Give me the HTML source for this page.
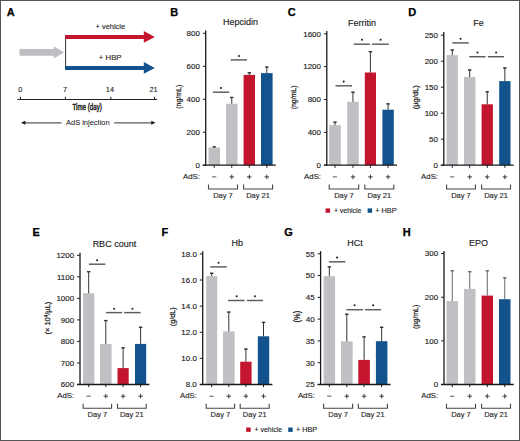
<!DOCTYPE html>
<html><head><meta charset="utf-8"><style>
html,body{margin:0;padding:0;background:#fff;}
body{width:520px;height:441px;overflow:hidden;position:relative;font-family:"Liberation Sans", sans-serif;}
</style></head><body>
<svg width="520" height="441" viewBox="0 0 520 441" style="position:absolute;left:0;top:0" font-family='"Liberation Sans", sans-serif'>
<rect x="0.00" y="0.00" width="520.00" height="441.00" fill="#fff"/>
<text x="6.80" y="16.20" font-size="11" text-anchor="start" font-weight="bold" fill="#000" stroke="#000" stroke-width="0.25" >A</text>
<path d="M19.5,48.9 H53.8 V46.3 L64,52.4 L53.8,58.5 V55.8 H19.5 Z" fill="#bebfc3"/>
<line x1="65.60" y1="35.00" x2="65.60" y2="70.00" stroke="#333" stroke-width="1"/>
<path d="M65.1,35 H143.8 V30.9 L154.8,36.9 L143.8,42.8 V39 H65.1 Z" fill="#c4152f"/>
<path d="M65.1,66 H143.8 V61.9 L154.8,67.9 L143.8,73.8 V70 H65.1 Z" fill="#12538d"/>
<text x="110.30" y="28.80" font-size="7.7" text-anchor="middle" font-weight="normal" fill="#222" stroke="#222" stroke-width="0.12" textLength="29.6" lengthAdjust="spacingAndGlyphs">+ vehicle</text>
<text x="110.20" y="59.70" font-size="7.8" text-anchor="middle" font-weight="normal" fill="#222" stroke="#222" stroke-width="0.12" >+ HBP</text>
<line x1="17.40" y1="99.50" x2="157.20" y2="99.50" stroke="#222" stroke-width="1.1"/>
<line x1="20.50" y1="96.80" x2="20.50" y2="99.50" stroke="#222" stroke-width="1"/>
<text x="20.40" y="91.60" font-size="7.3" text-anchor="middle" font-weight="normal" fill="#222" stroke="#222" stroke-width="0.12" >0</text>
<line x1="65.40" y1="96.80" x2="65.40" y2="99.50" stroke="#222" stroke-width="1"/>
<text x="65.10" y="91.60" font-size="7.3" text-anchor="middle" font-weight="normal" fill="#222" stroke="#222" stroke-width="0.12" >7</text>
<line x1="110.90" y1="96.80" x2="110.90" y2="99.50" stroke="#222" stroke-width="1"/>
<text x="109.90" y="91.60" font-size="7.3" text-anchor="middle" font-weight="normal" fill="#222" stroke="#222" stroke-width="0.12" >14</text>
<line x1="154.50" y1="96.80" x2="154.50" y2="99.50" stroke="#222" stroke-width="1"/>
<text x="153.60" y="91.60" font-size="7.3" text-anchor="middle" font-weight="normal" fill="#222" stroke="#222" stroke-width="0.12" >21</text>
<text x="87.20" y="110.40" font-size="8.8" text-anchor="middle" font-weight="normal" fill="#222" stroke="#222" stroke-width="0.45" textLength="29.5" lengthAdjust="spacingAndGlyphs">Time (day)</text>
<line x1="24.00" y1="122.80" x2="61.50" y2="122.80" stroke="#5a5a5a" stroke-width="1.3"/>
<path d="M21.1,122.8 L25.3,120.8 L25.3,124.8 Z" fill="#111"/>
<line x1="114.20" y1="122.80" x2="152.00" y2="122.80" stroke="#5a5a5a" stroke-width="1.3"/>
<path d="M155.4,122.8 L151.3,120.8 L151.3,124.8 Z" fill="#111"/>
<text x="87.80" y="125.30" font-size="7.4" text-anchor="middle" font-weight="normal" fill="#222" stroke="#222" stroke-width="0.06" textLength="43.6" lengthAdjust="spacingAndGlyphs">AdS injection</text>
<rect x="208.50" y="147.50" width="11.50" height="17.70" fill="#bfbfc4"/>
<rect x="226.00" y="103.80" width="11.50" height="61.40" fill="#bfbfc4"/>
<rect x="243.60" y="74.90" width="11.40" height="90.30" fill="#c4152f"/>
<rect x="261.00" y="73.10" width="11.60" height="92.10" fill="#12538d"/>
<line x1="214.25" y1="147.50" x2="214.25" y2="146.20" stroke="#333" stroke-width="1"/>
<line x1="212.55" y1="146.80" x2="215.95" y2="146.80" stroke="#333" stroke-width="1.4"/>
<line x1="231.75" y1="103.80" x2="231.75" y2="96.90" stroke="#333" stroke-width="1"/>
<line x1="230.05" y1="97.50" x2="233.45" y2="97.50" stroke="#333" stroke-width="1.4"/>
<line x1="249.30" y1="74.90" x2="249.30" y2="72.20" stroke="#333" stroke-width="1"/>
<line x1="247.60" y1="72.80" x2="251.00" y2="72.80" stroke="#333" stroke-width="1.4"/>
<line x1="266.80" y1="73.10" x2="266.80" y2="66.50" stroke="#333" stroke-width="1"/>
<line x1="265.10" y1="67.10" x2="268.50" y2="67.10" stroke="#333" stroke-width="1.4"/>
<line x1="205.70" y1="30.60" x2="205.70" y2="165.80" stroke="#1a1a1a" stroke-width="1.3"/>
<line x1="202.80" y1="165.20" x2="275.80" y2="165.20" stroke="#1a1a1a" stroke-width="1.3"/>
<line x1="202.80" y1="165.20" x2="205.50" y2="165.20" stroke="#1a1a1a" stroke-width="1"/>
<text x="199.80" y="168.00" font-size="7.95" text-anchor="end" font-weight="normal" fill="#222" stroke="#222" stroke-width="0.15" >0</text>
<line x1="202.80" y1="132.22" x2="205.50" y2="132.22" stroke="#1a1a1a" stroke-width="1"/>
<text x="199.80" y="135.03" font-size="7.95" text-anchor="end" font-weight="normal" fill="#222" stroke="#222" stroke-width="0.15" >200</text>
<line x1="202.80" y1="99.25" x2="205.50" y2="99.25" stroke="#1a1a1a" stroke-width="1"/>
<text x="199.80" y="102.05" font-size="7.95" text-anchor="end" font-weight="normal" fill="#222" stroke="#222" stroke-width="0.15" >400</text>
<line x1="202.80" y1="66.28" x2="205.50" y2="66.28" stroke="#1a1a1a" stroke-width="1"/>
<text x="199.80" y="69.08" font-size="7.95" text-anchor="end" font-weight="normal" fill="#222" stroke="#222" stroke-width="0.15" >600</text>
<line x1="202.80" y1="33.30" x2="205.50" y2="33.30" stroke="#1a1a1a" stroke-width="1"/>
<text x="199.80" y="36.10" font-size="7.95" text-anchor="end" font-weight="normal" fill="#222" stroke="#222" stroke-width="0.15" >800</text>
<line x1="214.25" y1="165.20" x2="214.25" y2="167.80" stroke="#1a1a1a" stroke-width="1"/>
<line x1="231.75" y1="165.20" x2="231.75" y2="167.80" stroke="#1a1a1a" stroke-width="1"/>
<line x1="249.30" y1="165.20" x2="249.30" y2="167.80" stroke="#1a1a1a" stroke-width="1"/>
<line x1="266.80" y1="165.20" x2="266.80" y2="167.80" stroke="#1a1a1a" stroke-width="1"/>
<line x1="212.80" y1="92.20" x2="229.30" y2="92.20" stroke="#5c5c5c" stroke-width="1.45"/>
<circle cx="221.00" cy="88.00" r="1.05" fill="#222"/>
<line x1="230.60" y1="59.90" x2="247.10" y2="59.90" stroke="#5c5c5c" stroke-width="1.45"/>
<circle cx="238.90" cy="56.00" r="1.05" fill="#222"/>
<text x="199.90" y="178.90" font-size="7.8" text-anchor="end" font-weight="normal" fill="#222" stroke="#222" stroke-width="0.12" >AdS:</text>
<line x1="212.05" y1="176.90" x2="216.25" y2="176.90" stroke="#444" stroke-width="0.9"/>
<line x1="229.50" y1="176.90" x2="234.00" y2="176.90" stroke="#333" stroke-width="0.95"/>
<line x1="231.75" y1="174.65" x2="231.75" y2="179.15" stroke="#333" stroke-width="0.95"/>
<line x1="247.05" y1="176.90" x2="251.55" y2="176.90" stroke="#333" stroke-width="0.95"/>
<line x1="249.30" y1="174.65" x2="249.30" y2="179.15" stroke="#333" stroke-width="0.95"/>
<line x1="264.55" y1="176.90" x2="269.05" y2="176.90" stroke="#333" stroke-width="0.95"/>
<line x1="266.80" y1="174.65" x2="266.80" y2="179.15" stroke="#333" stroke-width="0.95"/>
<path d="M208.50,184.40 V189.00 H237.50 V184.40" fill="none" stroke="#444" stroke-width="1.1"/>
<path d="M243.60,184.40 V189.00 H272.60 V184.40" fill="none" stroke="#444" stroke-width="1.1"/>
<text x="223.00" y="198.00" font-size="7.5" text-anchor="middle" font-weight="normal" fill="#222" stroke="#222" stroke-width="0.12" >Day 7</text>
<text x="258.10" y="198.00" font-size="7.5" text-anchor="middle" font-weight="normal" fill="#222" stroke="#222" stroke-width="0.12" >Day 21</text>
<text x="240.60" y="25.40" font-size="9" text-anchor="middle" font-weight="normal" fill="#222" stroke="#222" stroke-width="0.14" >Hepcidin</text>
<text x="0" y="0" font-size="8.0" text-anchor="middle" fill="#222" stroke="#222" stroke-width="0.25" textLength="24" lengthAdjust="spacingAndGlyphs" transform="translate(178.00,96.70) rotate(-90) translate(0,2.6)">(ng/mL)</text>
<text x="170.30" y="16.20" font-size="11" text-anchor="start" font-weight="bold" fill="#000" stroke="#000" stroke-width="0.25" >B</text>
<rect x="329.20" y="125.10" width="11.60" height="40.10" fill="#bfbfc4"/>
<rect x="347.20" y="101.80" width="11.50" height="63.40" fill="#bfbfc4"/>
<rect x="364.80" y="72.50" width="11.20" height="92.70" fill="#c4152f"/>
<rect x="382.40" y="109.70" width="11.40" height="55.50" fill="#12538d"/>
<line x1="335.00" y1="125.10" x2="335.00" y2="121.60" stroke="#333" stroke-width="1"/>
<line x1="333.30" y1="122.20" x2="336.70" y2="122.20" stroke="#333" stroke-width="1.4"/>
<line x1="352.95" y1="101.80" x2="352.95" y2="91.70" stroke="#333" stroke-width="1"/>
<line x1="351.25" y1="92.30" x2="354.65" y2="92.30" stroke="#333" stroke-width="1.4"/>
<line x1="370.40" y1="72.50" x2="370.40" y2="51.10" stroke="#333" stroke-width="1"/>
<line x1="368.70" y1="51.70" x2="372.10" y2="51.70" stroke="#333" stroke-width="1.4"/>
<line x1="388.10" y1="109.70" x2="388.10" y2="103.30" stroke="#333" stroke-width="1"/>
<line x1="386.40" y1="103.90" x2="389.80" y2="103.90" stroke="#333" stroke-width="1.4"/>
<line x1="326.80" y1="30.90" x2="326.80" y2="165.80" stroke="#1a1a1a" stroke-width="1.3"/>
<line x1="323.90" y1="165.20" x2="397.00" y2="165.20" stroke="#1a1a1a" stroke-width="1.3"/>
<line x1="323.90" y1="165.20" x2="326.60" y2="165.20" stroke="#1a1a1a" stroke-width="1"/>
<text x="320.90" y="168.00" font-size="7.95" text-anchor="end" font-weight="normal" fill="#222" stroke="#222" stroke-width="0.15" >0</text>
<line x1="323.90" y1="132.35" x2="326.60" y2="132.35" stroke="#1a1a1a" stroke-width="1"/>
<text x="320.90" y="135.15" font-size="7.95" text-anchor="end" font-weight="normal" fill="#222" stroke="#222" stroke-width="0.15" >400</text>
<line x1="323.90" y1="99.50" x2="326.60" y2="99.50" stroke="#1a1a1a" stroke-width="1"/>
<text x="320.90" y="102.30" font-size="7.95" text-anchor="end" font-weight="normal" fill="#222" stroke="#222" stroke-width="0.15" >800</text>
<line x1="323.90" y1="66.65" x2="326.60" y2="66.65" stroke="#1a1a1a" stroke-width="1"/>
<text x="320.90" y="69.45" font-size="7.95" text-anchor="end" font-weight="normal" fill="#222" stroke="#222" stroke-width="0.15" >1200</text>
<line x1="323.90" y1="33.80" x2="326.60" y2="33.80" stroke="#1a1a1a" stroke-width="1"/>
<text x="320.90" y="36.60" font-size="7.95" text-anchor="end" font-weight="normal" fill="#222" stroke="#222" stroke-width="0.15" >1600</text>
<line x1="335.00" y1="165.20" x2="335.00" y2="167.80" stroke="#1a1a1a" stroke-width="1"/>
<line x1="352.95" y1="165.20" x2="352.95" y2="167.80" stroke="#1a1a1a" stroke-width="1"/>
<line x1="370.40" y1="165.20" x2="370.40" y2="167.80" stroke="#1a1a1a" stroke-width="1"/>
<line x1="388.10" y1="165.20" x2="388.10" y2="167.80" stroke="#1a1a1a" stroke-width="1"/>
<line x1="335.50" y1="85.80" x2="352.00" y2="85.80" stroke="#5c5c5c" stroke-width="1.45"/>
<circle cx="343.70" cy="81.60" r="1.05" fill="#222"/>
<line x1="353.70" y1="44.20" x2="369.90" y2="44.20" stroke="#5c5c5c" stroke-width="1.45"/>
<circle cx="362.00" cy="39.80" r="1.05" fill="#222"/>
<line x1="372.00" y1="44.20" x2="388.80" y2="44.20" stroke="#5c5c5c" stroke-width="1.45"/>
<circle cx="380.60" cy="39.80" r="1.05" fill="#222"/>
<text x="321.00" y="178.90" font-size="7.8" text-anchor="end" font-weight="normal" fill="#222" stroke="#222" stroke-width="0.12" >AdS:</text>
<line x1="332.80" y1="176.90" x2="337.00" y2="176.90" stroke="#444" stroke-width="0.9"/>
<line x1="350.70" y1="176.90" x2="355.20" y2="176.90" stroke="#333" stroke-width="0.95"/>
<line x1="352.95" y1="174.65" x2="352.95" y2="179.15" stroke="#333" stroke-width="0.95"/>
<line x1="368.15" y1="176.90" x2="372.65" y2="176.90" stroke="#333" stroke-width="0.95"/>
<line x1="370.40" y1="174.65" x2="370.40" y2="179.15" stroke="#333" stroke-width="0.95"/>
<line x1="385.85" y1="176.90" x2="390.35" y2="176.90" stroke="#333" stroke-width="0.95"/>
<line x1="388.10" y1="174.65" x2="388.10" y2="179.15" stroke="#333" stroke-width="0.95"/>
<path d="M329.20,184.40 V189.00 H358.70 V184.40" fill="none" stroke="#444" stroke-width="1.1"/>
<path d="M364.80,184.40 V189.00 H393.80 V184.40" fill="none" stroke="#444" stroke-width="1.1"/>
<text x="343.95" y="198.00" font-size="7.5" text-anchor="middle" font-weight="normal" fill="#222" stroke="#222" stroke-width="0.12" >Day 7</text>
<text x="379.30" y="198.00" font-size="7.5" text-anchor="middle" font-weight="normal" fill="#222" stroke="#222" stroke-width="0.12" >Day 21</text>
<text x="361.90" y="25.60" font-size="9" text-anchor="middle" font-weight="normal" fill="#222" stroke="#222" stroke-width="0.14" >Ferritin</text>
<text x="0" y="0" font-size="8.0" text-anchor="middle" fill="#222" stroke="#222" stroke-width="0.25" textLength="23.8" lengthAdjust="spacingAndGlyphs" transform="translate(293.80,97.40) rotate(-90) translate(0,2.6)">(ng/mL)</text>
<text x="287.70" y="16.20" font-size="11" text-anchor="start" font-weight="bold" fill="#000" stroke="#000" stroke-width="0.25" >C</text>
<rect x="446.60" y="55.10" width="11.30" height="110.10" fill="#bfbfc4"/>
<rect x="464.00" y="77.00" width="11.40" height="88.20" fill="#bfbfc4"/>
<rect x="481.60" y="104.30" width="11.30" height="60.90" fill="#c4152f"/>
<rect x="499.20" y="81.10" width="11.30" height="84.10" fill="#12538d"/>
<line x1="452.25" y1="55.10" x2="452.25" y2="49.40" stroke="#333" stroke-width="1"/>
<line x1="450.55" y1="50.00" x2="453.95" y2="50.00" stroke="#333" stroke-width="1.4"/>
<line x1="469.70" y1="77.00" x2="469.70" y2="69.40" stroke="#333" stroke-width="1"/>
<line x1="468.00" y1="70.00" x2="471.40" y2="70.00" stroke="#333" stroke-width="1.4"/>
<line x1="487.25" y1="104.30" x2="487.25" y2="91.20" stroke="#333" stroke-width="1"/>
<line x1="485.55" y1="91.80" x2="488.95" y2="91.80" stroke="#333" stroke-width="1.4"/>
<line x1="504.85" y1="81.10" x2="504.85" y2="67.30" stroke="#333" stroke-width="1"/>
<line x1="503.15" y1="67.90" x2="506.55" y2="67.90" stroke="#333" stroke-width="1.4"/>
<line x1="443.80" y1="32.10" x2="443.80" y2="165.80" stroke="#1a1a1a" stroke-width="1.3"/>
<line x1="440.90" y1="165.20" x2="513.70" y2="165.20" stroke="#1a1a1a" stroke-width="1.3"/>
<line x1="440.90" y1="165.20" x2="443.60" y2="165.20" stroke="#1a1a1a" stroke-width="1"/>
<text x="437.90" y="168.00" font-size="7.95" text-anchor="end" font-weight="normal" fill="#222" stroke="#222" stroke-width="0.15" >0</text>
<line x1="440.90" y1="139.20" x2="443.60" y2="139.20" stroke="#1a1a1a" stroke-width="1"/>
<text x="437.90" y="142.00" font-size="7.95" text-anchor="end" font-weight="normal" fill="#222" stroke="#222" stroke-width="0.15" >50</text>
<line x1="440.90" y1="113.20" x2="443.60" y2="113.20" stroke="#1a1a1a" stroke-width="1"/>
<text x="437.90" y="116.00" font-size="7.95" text-anchor="end" font-weight="normal" fill="#222" stroke="#222" stroke-width="0.15" >100</text>
<line x1="440.90" y1="87.20" x2="443.60" y2="87.20" stroke="#1a1a1a" stroke-width="1"/>
<text x="437.90" y="90.00" font-size="7.95" text-anchor="end" font-weight="normal" fill="#222" stroke="#222" stroke-width="0.15" >150</text>
<line x1="440.90" y1="61.20" x2="443.60" y2="61.20" stroke="#1a1a1a" stroke-width="1"/>
<text x="437.90" y="64.00" font-size="7.95" text-anchor="end" font-weight="normal" fill="#222" stroke="#222" stroke-width="0.15" >200</text>
<line x1="440.90" y1="35.20" x2="443.60" y2="35.20" stroke="#1a1a1a" stroke-width="1"/>
<text x="437.90" y="38.00" font-size="7.95" text-anchor="end" font-weight="normal" fill="#222" stroke="#222" stroke-width="0.15" >250</text>
<line x1="452.25" y1="165.20" x2="452.25" y2="167.80" stroke="#1a1a1a" stroke-width="1"/>
<line x1="469.70" y1="165.20" x2="469.70" y2="167.80" stroke="#1a1a1a" stroke-width="1"/>
<line x1="487.25" y1="165.20" x2="487.25" y2="167.80" stroke="#1a1a1a" stroke-width="1"/>
<line x1="504.85" y1="165.20" x2="504.85" y2="167.80" stroke="#1a1a1a" stroke-width="1"/>
<line x1="452.30" y1="42.90" x2="468.80" y2="42.90" stroke="#5c5c5c" stroke-width="1.45"/>
<circle cx="460.60" cy="38.70" r="1.05" fill="#222"/>
<line x1="469.30" y1="56.70" x2="485.50" y2="56.70" stroke="#5c5c5c" stroke-width="1.45"/>
<circle cx="477.50" cy="52.50" r="1.05" fill="#222"/>
<line x1="487.90" y1="56.70" x2="504.00" y2="56.70" stroke="#5c5c5c" stroke-width="1.45"/>
<circle cx="496.10" cy="52.50" r="1.05" fill="#222"/>
<text x="438.00" y="178.90" font-size="7.8" text-anchor="end" font-weight="normal" fill="#222" stroke="#222" stroke-width="0.12" >AdS:</text>
<line x1="450.05" y1="176.90" x2="454.25" y2="176.90" stroke="#444" stroke-width="0.9"/>
<line x1="467.45" y1="176.90" x2="471.95" y2="176.90" stroke="#333" stroke-width="0.95"/>
<line x1="469.70" y1="174.65" x2="469.70" y2="179.15" stroke="#333" stroke-width="0.95"/>
<line x1="485.00" y1="176.90" x2="489.50" y2="176.90" stroke="#333" stroke-width="0.95"/>
<line x1="487.25" y1="174.65" x2="487.25" y2="179.15" stroke="#333" stroke-width="0.95"/>
<line x1="502.60" y1="176.90" x2="507.10" y2="176.90" stroke="#333" stroke-width="0.95"/>
<line x1="504.85" y1="174.65" x2="504.85" y2="179.15" stroke="#333" stroke-width="0.95"/>
<path d="M446.60,184.40 V189.00 H475.40 V184.40" fill="none" stroke="#444" stroke-width="1.1"/>
<path d="M481.60,184.40 V189.00 H510.50 V184.40" fill="none" stroke="#444" stroke-width="1.1"/>
<text x="461.00" y="198.00" font-size="7.5" text-anchor="middle" font-weight="normal" fill="#222" stroke="#222" stroke-width="0.12" >Day 7</text>
<text x="496.05" y="198.00" font-size="7.5" text-anchor="middle" font-weight="normal" fill="#222" stroke="#222" stroke-width="0.12" >Day 21</text>
<text x="478.60" y="25.70" font-size="9" text-anchor="middle" font-weight="normal" fill="#222" stroke="#222" stroke-width="0.14" >Fe</text>
<text x="0" y="0" font-size="8.0" text-anchor="middle" fill="#222" stroke="#222" stroke-width="0.25" textLength="24.2" lengthAdjust="spacingAndGlyphs" transform="translate(415.50,97.20) rotate(-90) translate(0,2.6)">(µg/dL)</text>
<text x="408.30" y="16.20" font-size="11" text-anchor="start" font-weight="bold" fill="#000" stroke="#000" stroke-width="0.25" >D</text>
<rect x="83.10" y="293.20" width="11.20" height="91.30" fill="#bfbfc4"/>
<rect x="100.00" y="344.10" width="11.60" height="40.40" fill="#bfbfc4"/>
<rect x="117.50" y="368.10" width="11.20" height="16.40" fill="#c4152f"/>
<rect x="135.00" y="343.90" width="11.20" height="40.60" fill="#12538d"/>
<line x1="88.70" y1="293.20" x2="88.70" y2="271.10" stroke="#333" stroke-width="1"/>
<line x1="87.00" y1="271.70" x2="90.40" y2="271.70" stroke="#333" stroke-width="1.4"/>
<line x1="105.80" y1="344.10" x2="105.80" y2="320.00" stroke="#333" stroke-width="1"/>
<line x1="104.10" y1="320.60" x2="107.50" y2="320.60" stroke="#333" stroke-width="1.4"/>
<line x1="123.10" y1="368.10" x2="123.10" y2="347.20" stroke="#333" stroke-width="1"/>
<line x1="121.40" y1="347.80" x2="124.80" y2="347.80" stroke="#333" stroke-width="1.4"/>
<line x1="140.60" y1="343.90" x2="140.60" y2="326.70" stroke="#333" stroke-width="1"/>
<line x1="138.90" y1="327.30" x2="142.30" y2="327.30" stroke="#333" stroke-width="1.4"/>
<line x1="80.00" y1="252.70" x2="80.00" y2="385.10" stroke="#1a1a1a" stroke-width="1.3"/>
<line x1="77.10" y1="384.50" x2="149.40" y2="384.50" stroke="#1a1a1a" stroke-width="1.3"/>
<line x1="77.10" y1="384.50" x2="79.80" y2="384.50" stroke="#1a1a1a" stroke-width="1"/>
<text x="74.10" y="387.30" font-size="7.95" text-anchor="end" font-weight="normal" fill="#222" stroke="#222" stroke-width="0.15" >600</text>
<line x1="77.10" y1="362.97" x2="79.80" y2="362.97" stroke="#1a1a1a" stroke-width="1"/>
<text x="74.10" y="365.77" font-size="7.95" text-anchor="end" font-weight="normal" fill="#222" stroke="#222" stroke-width="0.15" >700</text>
<line x1="77.10" y1="341.43" x2="79.80" y2="341.43" stroke="#1a1a1a" stroke-width="1"/>
<text x="74.10" y="344.23" font-size="7.95" text-anchor="end" font-weight="normal" fill="#222" stroke="#222" stroke-width="0.15" >800</text>
<line x1="77.10" y1="319.90" x2="79.80" y2="319.90" stroke="#1a1a1a" stroke-width="1"/>
<text x="74.10" y="322.70" font-size="7.95" text-anchor="end" font-weight="normal" fill="#222" stroke="#222" stroke-width="0.15" >900</text>
<line x1="77.10" y1="298.37" x2="79.80" y2="298.37" stroke="#1a1a1a" stroke-width="1"/>
<text x="74.10" y="301.17" font-size="7.95" text-anchor="end" font-weight="normal" fill="#222" stroke="#222" stroke-width="0.15" >1000</text>
<line x1="77.10" y1="276.83" x2="79.80" y2="276.83" stroke="#1a1a1a" stroke-width="1"/>
<text x="74.10" y="279.63" font-size="7.95" text-anchor="end" font-weight="normal" fill="#222" stroke="#222" stroke-width="0.15" >1100</text>
<line x1="77.10" y1="255.30" x2="79.80" y2="255.30" stroke="#1a1a1a" stroke-width="1"/>
<text x="74.10" y="258.10" font-size="7.95" text-anchor="end" font-weight="normal" fill="#222" stroke="#222" stroke-width="0.15" >1200</text>
<line x1="88.70" y1="384.50" x2="88.70" y2="387.10" stroke="#1a1a1a" stroke-width="1"/>
<line x1="105.80" y1="384.50" x2="105.80" y2="387.10" stroke="#1a1a1a" stroke-width="1"/>
<line x1="123.10" y1="384.50" x2="123.10" y2="387.10" stroke="#1a1a1a" stroke-width="1"/>
<line x1="140.60" y1="384.50" x2="140.60" y2="387.10" stroke="#1a1a1a" stroke-width="1"/>
<line x1="88.90" y1="264.20" x2="105.40" y2="264.20" stroke="#5c5c5c" stroke-width="1.45"/>
<circle cx="97.10" cy="260.30" r="1.05" fill="#222"/>
<line x1="105.90" y1="312.60" x2="122.10" y2="312.60" stroke="#5c5c5c" stroke-width="1.45"/>
<circle cx="114.10" cy="308.70" r="1.05" fill="#222"/>
<line x1="124.10" y1="312.60" x2="140.60" y2="312.60" stroke="#5c5c5c" stroke-width="1.45"/>
<circle cx="132.40" cy="308.70" r="1.05" fill="#222"/>
<text x="74.20" y="398.20" font-size="7.8" text-anchor="end" font-weight="normal" fill="#222" stroke="#222" stroke-width="0.12" >AdS:</text>
<line x1="86.50" y1="396.20" x2="90.70" y2="396.20" stroke="#444" stroke-width="0.9"/>
<line x1="103.55" y1="396.20" x2="108.05" y2="396.20" stroke="#333" stroke-width="0.95"/>
<line x1="105.80" y1="393.95" x2="105.80" y2="398.45" stroke="#333" stroke-width="0.95"/>
<line x1="120.85" y1="396.20" x2="125.35" y2="396.20" stroke="#333" stroke-width="0.95"/>
<line x1="123.10" y1="393.95" x2="123.10" y2="398.45" stroke="#333" stroke-width="0.95"/>
<line x1="138.35" y1="396.20" x2="142.85" y2="396.20" stroke="#333" stroke-width="0.95"/>
<line x1="140.60" y1="393.95" x2="140.60" y2="398.45" stroke="#333" stroke-width="0.95"/>
<path d="M83.10,403.70 V408.30 H111.60 V403.70" fill="none" stroke="#444" stroke-width="1.1"/>
<path d="M117.50,403.70 V408.30 H146.20 V403.70" fill="none" stroke="#444" stroke-width="1.1"/>
<text x="97.35" y="417.30" font-size="7.5" text-anchor="middle" font-weight="normal" fill="#222" stroke="#222" stroke-width="0.12" >Day 7</text>
<text x="131.85" y="417.30" font-size="7.5" text-anchor="middle" font-weight="normal" fill="#222" stroke="#222" stroke-width="0.12" >Day 21</text>
<text x="114.40" y="247.10" font-size="9" text-anchor="middle" font-weight="normal" fill="#222" stroke="#222" stroke-width="0.14" >RBC count</text>
<text x="0" y="0" font-size="7.6" text-anchor="middle" fill="#222" stroke="#222" stroke-width="0.25" textLength="32.8" lengthAdjust="spacingAndGlyphs" transform="translate(47.70,318.10) rotate(-90) translate(0,2.6)">(× 10<tspan font-size="4.5" dy="-2.6">4</tspan><tspan dy="2.6">/µL)</tspan></text>
<text x="32.40" y="236.30" font-size="11" text-anchor="start" font-weight="bold" fill="#000" stroke="#000" stroke-width="0.25" >E</text>
<rect x="206.20" y="276.20" width="11.00" height="108.30" fill="#bfbfc4"/>
<rect x="223.00" y="331.40" width="11.60" height="53.10" fill="#bfbfc4"/>
<rect x="240.20" y="361.70" width="11.40" height="22.80" fill="#c4152f"/>
<rect x="257.80" y="336.30" width="11.40" height="48.20" fill="#12538d"/>
<line x1="211.70" y1="276.20" x2="211.70" y2="272.70" stroke="#333" stroke-width="1"/>
<line x1="210.00" y1="273.30" x2="213.40" y2="273.30" stroke="#333" stroke-width="1.4"/>
<line x1="228.80" y1="331.40" x2="228.80" y2="311.50" stroke="#333" stroke-width="1"/>
<line x1="227.10" y1="312.10" x2="230.50" y2="312.10" stroke="#333" stroke-width="1.4"/>
<line x1="245.90" y1="361.70" x2="245.90" y2="348.50" stroke="#333" stroke-width="1"/>
<line x1="244.20" y1="349.10" x2="247.60" y2="349.10" stroke="#333" stroke-width="1.4"/>
<line x1="263.50" y1="336.30" x2="263.50" y2="321.80" stroke="#333" stroke-width="1"/>
<line x1="261.80" y1="322.40" x2="265.20" y2="322.40" stroke="#333" stroke-width="1.4"/>
<line x1="202.70" y1="251.20" x2="202.70" y2="385.10" stroke="#1a1a1a" stroke-width="1.3"/>
<line x1="199.80" y1="384.50" x2="272.40" y2="384.50" stroke="#1a1a1a" stroke-width="1.3"/>
<line x1="199.80" y1="384.50" x2="202.50" y2="384.50" stroke="#1a1a1a" stroke-width="1"/>
<text x="196.80" y="387.30" font-size="7.95" text-anchor="end" font-weight="normal" fill="#222" stroke="#222" stroke-width="0.15" >8.0</text>
<line x1="199.80" y1="358.38" x2="202.50" y2="358.38" stroke="#1a1a1a" stroke-width="1"/>
<text x="196.80" y="361.18" font-size="7.95" text-anchor="end" font-weight="normal" fill="#222" stroke="#222" stroke-width="0.15" >10.0</text>
<line x1="199.80" y1="332.26" x2="202.50" y2="332.26" stroke="#1a1a1a" stroke-width="1"/>
<text x="196.80" y="335.06" font-size="7.95" text-anchor="end" font-weight="normal" fill="#222" stroke="#222" stroke-width="0.15" >12.0</text>
<line x1="199.80" y1="306.14" x2="202.50" y2="306.14" stroke="#1a1a1a" stroke-width="1"/>
<text x="196.80" y="308.94" font-size="7.95" text-anchor="end" font-weight="normal" fill="#222" stroke="#222" stroke-width="0.15" >14.0</text>
<line x1="199.80" y1="280.02" x2="202.50" y2="280.02" stroke="#1a1a1a" stroke-width="1"/>
<text x="196.80" y="282.82" font-size="7.95" text-anchor="end" font-weight="normal" fill="#222" stroke="#222" stroke-width="0.15" >16.0</text>
<line x1="199.80" y1="253.90" x2="202.50" y2="253.90" stroke="#1a1a1a" stroke-width="1"/>
<text x="196.80" y="256.70" font-size="7.95" text-anchor="end" font-weight="normal" fill="#222" stroke="#222" stroke-width="0.15" >18.0</text>
<line x1="211.70" y1="384.50" x2="211.70" y2="387.10" stroke="#1a1a1a" stroke-width="1"/>
<line x1="228.80" y1="384.50" x2="228.80" y2="387.10" stroke="#1a1a1a" stroke-width="1"/>
<line x1="245.90" y1="384.50" x2="245.90" y2="387.10" stroke="#1a1a1a" stroke-width="1"/>
<line x1="263.50" y1="384.50" x2="263.50" y2="387.10" stroke="#1a1a1a" stroke-width="1"/>
<line x1="210.30" y1="266.90" x2="226.80" y2="266.90" stroke="#5c5c5c" stroke-width="1.45"/>
<circle cx="218.60" cy="262.70" r="1.05" fill="#222"/>
<line x1="228.10" y1="300.50" x2="244.60" y2="300.50" stroke="#5c5c5c" stroke-width="1.45"/>
<circle cx="236.70" cy="296.30" r="1.05" fill="#222"/>
<line x1="246.80" y1="300.50" x2="263.00" y2="300.50" stroke="#5c5c5c" stroke-width="1.45"/>
<circle cx="254.90" cy="296.30" r="1.05" fill="#222"/>
<text x="196.90" y="398.20" font-size="7.8" text-anchor="end" font-weight="normal" fill="#222" stroke="#222" stroke-width="0.12" >AdS:</text>
<line x1="209.50" y1="396.20" x2="213.70" y2="396.20" stroke="#444" stroke-width="0.9"/>
<line x1="226.55" y1="396.20" x2="231.05" y2="396.20" stroke="#333" stroke-width="0.95"/>
<line x1="228.80" y1="393.95" x2="228.80" y2="398.45" stroke="#333" stroke-width="0.95"/>
<line x1="243.65" y1="396.20" x2="248.15" y2="396.20" stroke="#333" stroke-width="0.95"/>
<line x1="245.90" y1="393.95" x2="245.90" y2="398.45" stroke="#333" stroke-width="0.95"/>
<line x1="261.25" y1="396.20" x2="265.75" y2="396.20" stroke="#333" stroke-width="0.95"/>
<line x1="263.50" y1="393.95" x2="263.50" y2="398.45" stroke="#333" stroke-width="0.95"/>
<path d="M206.20,403.70 V408.30 H234.60 V403.70" fill="none" stroke="#444" stroke-width="1.1"/>
<path d="M240.20,403.70 V408.30 H269.20 V403.70" fill="none" stroke="#444" stroke-width="1.1"/>
<text x="220.40" y="417.30" font-size="7.5" text-anchor="middle" font-weight="normal" fill="#222" stroke="#222" stroke-width="0.12" >Day 7</text>
<text x="254.70" y="417.30" font-size="7.5" text-anchor="middle" font-weight="normal" fill="#222" stroke="#222" stroke-width="0.12" >Day 21</text>
<text x="237.30" y="245.80" font-size="9" text-anchor="middle" font-weight="normal" fill="#222" stroke="#222" stroke-width="0.14" >Hb</text>
<text x="0" y="0" font-size="8.0" text-anchor="middle" fill="#222" stroke="#222" stroke-width="0.25" textLength="18.9" lengthAdjust="spacingAndGlyphs" transform="translate(172.40,316.70) rotate(-90) translate(0,2.6)">(g/dL)</text>
<text x="161.60" y="236.30" font-size="11" text-anchor="start" font-weight="bold" fill="#000" stroke="#000" stroke-width="0.25" >F</text>
<rect x="323.60" y="276.20" width="11.50" height="108.30" fill="#bfbfc4"/>
<rect x="341.00" y="341.40" width="11.60" height="43.10" fill="#bfbfc4"/>
<rect x="358.30" y="359.90" width="11.60" height="24.60" fill="#c4152f"/>
<rect x="375.90" y="341.20" width="11.50" height="43.30" fill="#12538d"/>
<line x1="329.35" y1="276.20" x2="329.35" y2="266.30" stroke="#333" stroke-width="1"/>
<line x1="327.65" y1="266.90" x2="331.05" y2="266.90" stroke="#333" stroke-width="1.4"/>
<line x1="346.80" y1="341.40" x2="346.80" y2="313.60" stroke="#333" stroke-width="1"/>
<line x1="345.10" y1="314.20" x2="348.50" y2="314.20" stroke="#333" stroke-width="1.4"/>
<line x1="364.10" y1="359.90" x2="364.10" y2="336.30" stroke="#333" stroke-width="1"/>
<line x1="362.40" y1="336.90" x2="365.80" y2="336.90" stroke="#333" stroke-width="1.4"/>
<line x1="381.65" y1="341.20" x2="381.65" y2="326.70" stroke="#333" stroke-width="1"/>
<line x1="379.95" y1="327.30" x2="383.35" y2="327.30" stroke="#333" stroke-width="1.4"/>
<line x1="320.60" y1="251.20" x2="320.60" y2="385.10" stroke="#1a1a1a" stroke-width="1.3"/>
<line x1="317.70" y1="384.50" x2="390.60" y2="384.50" stroke="#1a1a1a" stroke-width="1.3"/>
<line x1="317.70" y1="384.50" x2="320.40" y2="384.50" stroke="#1a1a1a" stroke-width="1"/>
<text x="314.70" y="387.30" font-size="7.95" text-anchor="end" font-weight="normal" fill="#222" stroke="#222" stroke-width="0.15" >25</text>
<line x1="317.70" y1="362.72" x2="320.40" y2="362.72" stroke="#1a1a1a" stroke-width="1"/>
<text x="314.70" y="365.52" font-size="7.95" text-anchor="end" font-weight="normal" fill="#222" stroke="#222" stroke-width="0.15" >30</text>
<line x1="317.70" y1="340.93" x2="320.40" y2="340.93" stroke="#1a1a1a" stroke-width="1"/>
<text x="314.70" y="343.73" font-size="7.95" text-anchor="end" font-weight="normal" fill="#222" stroke="#222" stroke-width="0.15" >35</text>
<line x1="317.70" y1="319.15" x2="320.40" y2="319.15" stroke="#1a1a1a" stroke-width="1"/>
<text x="314.70" y="321.95" font-size="7.95" text-anchor="end" font-weight="normal" fill="#222" stroke="#222" stroke-width="0.15" >40</text>
<line x1="317.70" y1="297.37" x2="320.40" y2="297.37" stroke="#1a1a1a" stroke-width="1"/>
<text x="314.70" y="300.17" font-size="7.95" text-anchor="end" font-weight="normal" fill="#222" stroke="#222" stroke-width="0.15" >45</text>
<line x1="317.70" y1="275.58" x2="320.40" y2="275.58" stroke="#1a1a1a" stroke-width="1"/>
<text x="314.70" y="278.38" font-size="7.95" text-anchor="end" font-weight="normal" fill="#222" stroke="#222" stroke-width="0.15" >50</text>
<line x1="317.70" y1="253.80" x2="320.40" y2="253.80" stroke="#1a1a1a" stroke-width="1"/>
<text x="314.70" y="256.60" font-size="7.95" text-anchor="end" font-weight="normal" fill="#222" stroke="#222" stroke-width="0.15" >55</text>
<line x1="329.35" y1="384.50" x2="329.35" y2="387.10" stroke="#1a1a1a" stroke-width="1"/>
<line x1="346.80" y1="384.50" x2="346.80" y2="387.10" stroke="#1a1a1a" stroke-width="1"/>
<line x1="364.10" y1="384.50" x2="364.10" y2="387.10" stroke="#1a1a1a" stroke-width="1"/>
<line x1="381.65" y1="384.50" x2="381.65" y2="387.10" stroke="#1a1a1a" stroke-width="1"/>
<line x1="328.90" y1="261.80" x2="345.40" y2="261.80" stroke="#5c5c5c" stroke-width="1.45"/>
<circle cx="337.10" cy="257.60" r="1.05" fill="#222"/>
<line x1="346.40" y1="309.70" x2="362.90" y2="309.70" stroke="#5c5c5c" stroke-width="1.45"/>
<circle cx="354.60" cy="305.20" r="1.05" fill="#222"/>
<line x1="364.90" y1="309.70" x2="381.10" y2="309.70" stroke="#5c5c5c" stroke-width="1.45"/>
<circle cx="373.20" cy="305.20" r="1.05" fill="#222"/>
<text x="314.80" y="398.20" font-size="7.8" text-anchor="end" font-weight="normal" fill="#222" stroke="#222" stroke-width="0.12" >AdS:</text>
<line x1="327.15" y1="396.20" x2="331.35" y2="396.20" stroke="#444" stroke-width="0.9"/>
<line x1="344.55" y1="396.20" x2="349.05" y2="396.20" stroke="#333" stroke-width="0.95"/>
<line x1="346.80" y1="393.95" x2="346.80" y2="398.45" stroke="#333" stroke-width="0.95"/>
<line x1="361.85" y1="396.20" x2="366.35" y2="396.20" stroke="#333" stroke-width="0.95"/>
<line x1="364.10" y1="393.95" x2="364.10" y2="398.45" stroke="#333" stroke-width="0.95"/>
<line x1="379.40" y1="396.20" x2="383.90" y2="396.20" stroke="#333" stroke-width="0.95"/>
<line x1="381.65" y1="393.95" x2="381.65" y2="398.45" stroke="#333" stroke-width="0.95"/>
<path d="M323.60,403.70 V408.30 H352.60 V403.70" fill="none" stroke="#444" stroke-width="1.1"/>
<path d="M358.30,403.70 V408.30 H387.40 V403.70" fill="none" stroke="#444" stroke-width="1.1"/>
<text x="338.10" y="417.30" font-size="7.5" text-anchor="middle" font-weight="normal" fill="#222" stroke="#222" stroke-width="0.12" >Day 7</text>
<text x="372.85" y="417.30" font-size="7.5" text-anchor="middle" font-weight="normal" fill="#222" stroke="#222" stroke-width="0.12" >Day 21</text>
<text x="354.90" y="246.00" font-size="9" text-anchor="middle" font-weight="normal" fill="#222" stroke="#222" stroke-width="0.14" >HCt</text>
<text x="0" y="0" font-size="8.4" text-anchor="middle" fill="#222" stroke="#222" stroke-width="0.25" textLength="11.6" lengthAdjust="spacingAndGlyphs" transform="translate(297.10,316.60) rotate(-90) translate(0,2.6)">(%)</text>
<text x="284.30" y="236.30" font-size="11" text-anchor="start" font-weight="bold" fill="#000" stroke="#000" stroke-width="0.25" >G</text>
<rect x="446.50" y="301.10" width="11.50" height="83.40" fill="#bfbfc4"/>
<rect x="464.00" y="288.90" width="11.50" height="95.60" fill="#bfbfc4"/>
<rect x="481.60" y="295.60" width="11.40" height="88.90" fill="#c4152f"/>
<rect x="499.00" y="299.20" width="11.50" height="85.30" fill="#12538d"/>
<line x1="452.25" y1="301.10" x2="452.25" y2="270.20" stroke="#6a6a6a" stroke-width="1"/>
<line x1="450.55" y1="270.80" x2="453.95" y2="270.80" stroke="#6a6a6a" stroke-width="1.4"/>
<line x1="469.75" y1="288.90" x2="469.75" y2="271.10" stroke="#6a6a6a" stroke-width="1"/>
<line x1="468.05" y1="271.70" x2="471.45" y2="271.70" stroke="#6a6a6a" stroke-width="1.4"/>
<line x1="487.30" y1="295.60" x2="487.30" y2="270.20" stroke="#6a6a6a" stroke-width="1"/>
<line x1="485.60" y1="270.80" x2="489.00" y2="270.80" stroke="#6a6a6a" stroke-width="1.4"/>
<line x1="504.75" y1="299.20" x2="504.75" y2="277.30" stroke="#6a6a6a" stroke-width="1"/>
<line x1="503.05" y1="277.90" x2="506.45" y2="277.90" stroke="#6a6a6a" stroke-width="1.4"/>
<line x1="444.00" y1="250.90" x2="444.00" y2="385.10" stroke="#1a1a1a" stroke-width="1.3"/>
<line x1="441.10" y1="384.50" x2="513.70" y2="384.50" stroke="#1a1a1a" stroke-width="1.3"/>
<line x1="441.10" y1="384.50" x2="443.80" y2="384.50" stroke="#1a1a1a" stroke-width="1"/>
<text x="438.10" y="387.30" font-size="7.95" text-anchor="end" font-weight="normal" fill="#222" stroke="#222" stroke-width="0.15" >0</text>
<line x1="441.10" y1="340.87" x2="443.80" y2="340.87" stroke="#1a1a1a" stroke-width="1"/>
<text x="438.10" y="343.67" font-size="7.95" text-anchor="end" font-weight="normal" fill="#222" stroke="#222" stroke-width="0.15" >100</text>
<line x1="441.10" y1="297.23" x2="443.80" y2="297.23" stroke="#1a1a1a" stroke-width="1"/>
<text x="438.10" y="300.03" font-size="7.95" text-anchor="end" font-weight="normal" fill="#222" stroke="#222" stroke-width="0.15" >200</text>
<line x1="441.10" y1="253.60" x2="443.80" y2="253.60" stroke="#1a1a1a" stroke-width="1"/>
<text x="438.10" y="256.40" font-size="7.95" text-anchor="end" font-weight="normal" fill="#222" stroke="#222" stroke-width="0.15" >300</text>
<line x1="452.25" y1="384.50" x2="452.25" y2="387.10" stroke="#1a1a1a" stroke-width="1"/>
<line x1="469.75" y1="384.50" x2="469.75" y2="387.10" stroke="#1a1a1a" stroke-width="1"/>
<line x1="487.30" y1="384.50" x2="487.30" y2="387.10" stroke="#1a1a1a" stroke-width="1"/>
<line x1="504.75" y1="384.50" x2="504.75" y2="387.10" stroke="#1a1a1a" stroke-width="1"/>
<text x="438.20" y="398.20" font-size="7.8" text-anchor="end" font-weight="normal" fill="#222" stroke="#222" stroke-width="0.12" >AdS:</text>
<line x1="450.05" y1="396.20" x2="454.25" y2="396.20" stroke="#444" stroke-width="0.9"/>
<line x1="467.50" y1="396.20" x2="472.00" y2="396.20" stroke="#333" stroke-width="0.95"/>
<line x1="469.75" y1="393.95" x2="469.75" y2="398.45" stroke="#333" stroke-width="0.95"/>
<line x1="485.05" y1="396.20" x2="489.55" y2="396.20" stroke="#333" stroke-width="0.95"/>
<line x1="487.30" y1="393.95" x2="487.30" y2="398.45" stroke="#333" stroke-width="0.95"/>
<line x1="502.50" y1="396.20" x2="507.00" y2="396.20" stroke="#333" stroke-width="0.95"/>
<line x1="504.75" y1="393.95" x2="504.75" y2="398.45" stroke="#333" stroke-width="0.95"/>
<path d="M446.50,403.70 V408.30 H475.50 V403.70" fill="none" stroke="#444" stroke-width="1.1"/>
<path d="M481.60,403.70 V408.30 H510.50 V403.70" fill="none" stroke="#444" stroke-width="1.1"/>
<text x="461.00" y="417.30" font-size="7.5" text-anchor="middle" font-weight="normal" fill="#222" stroke="#222" stroke-width="0.12" >Day 7</text>
<text x="496.05" y="417.30" font-size="7.5" text-anchor="middle" font-weight="normal" fill="#222" stroke="#222" stroke-width="0.12" >Day 21</text>
<text x="478.50" y="245.80" font-size="9" text-anchor="middle" font-weight="normal" fill="#222" stroke="#222" stroke-width="0.14" >EPO</text>
<text x="0" y="0" font-size="8.0" text-anchor="middle" fill="#222" stroke="#222" stroke-width="0.25" textLength="24.2" lengthAdjust="spacingAndGlyphs" transform="translate(415.50,316.80) rotate(-90) translate(0,2.6)">(pg/mL)</text>
<text x="402.80" y="236.30" font-size="11" text-anchor="start" font-weight="bold" fill="#000" stroke="#000" stroke-width="0.25" >H</text>
<rect x="325.60" y="208.40" width="4.50" height="4.40" fill="#c4152f"/>
<text x="333.90" y="213.00" font-size="7.3" text-anchor="start" font-weight="normal" fill="#222" stroke="#222" stroke-width="0.12" textLength="27.6" lengthAdjust="spacingAndGlyphs">+ vehicle</text>
<rect x="367.60" y="208.40" width="4.50" height="4.40" fill="#12538d"/>
<text x="375.30" y="213.00" font-size="7.3" text-anchor="start" font-weight="normal" fill="#222" stroke="#222" stroke-width="0.12" >+ HBP</text>
<rect x="246.20" y="427.50" width="4.50" height="4.40" fill="#c4152f"/>
<text x="254.50" y="432.10" font-size="7.3" text-anchor="start" font-weight="normal" fill="#222" stroke="#222" stroke-width="0.12" textLength="27.6" lengthAdjust="spacingAndGlyphs">+ vehicle</text>
<rect x="288.20" y="427.50" width="4.50" height="4.40" fill="#12538d"/>
<text x="295.90" y="432.10" font-size="7.3" text-anchor="start" font-weight="normal" fill="#222" stroke="#222" stroke-width="0.12" >+ HBP</text>
<rect x="0.5" y="0.5" width="519" height="440" fill="none" stroke="#555" stroke-width="1"/>
</svg>
</body></html>
